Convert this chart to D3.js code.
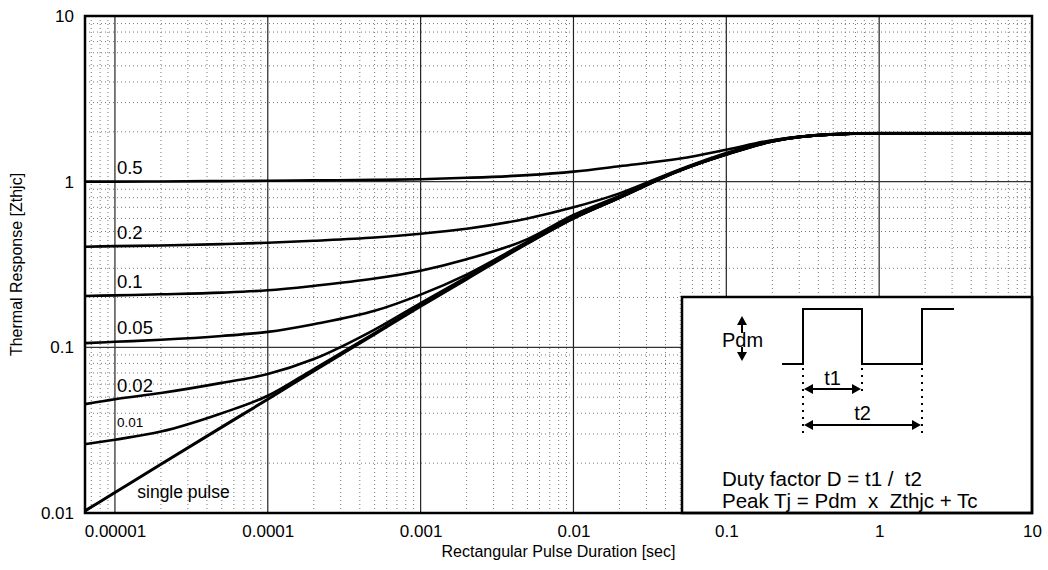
<!DOCTYPE html>
<html><head><meta charset="utf-8">
<script src="https://cdn.jsdelivr.net/npm/d3@7"></script>
<style>
body{margin:0;background:#fff}
text{font-family:"Liberation Sans",Arial,Helvetica,sans-serif;fill:#000}
</style>
</head><body>
<svg id="chart" width="1048" height="570"></svg>
<script>
// ---- data ----
const pulseDurations = [6.37e-6, 1e-5, 2e-5, 5e-5, 1e-4, 2e-4, 5e-4, 1e-3, 2e-3, 5e-3, 1e-2, 2e-2, 5e-2, 0.1, 0.2, 0.5, 1, 2, 5, 10];
const zD05   = [1.0, 1.0, 1.003, 1.008, 1.012, 1.018, 1.025, 1.035, 1.055, 1.095, 1.15, 1.24, 1.38, 1.56, 1.78, 1.93, 1.96, 1.96, 1.96, 1.96];
const zD02   = [0.405, 0.408, 0.412, 0.42, 0.428, 0.44, 0.46, 0.485, 0.52, 0.60, 0.70, 0.85, 1.19, 1.49, 1.77, 1.93, 1.96, 1.96, 1.96, 1.96];
const zD01   = [0.204, 0.206, 0.209, 0.214, 0.221, 0.235, 0.26, 0.29, 0.34, 0.45, 0.63, 0.82, 1.18, 1.47, 1.76, 1.93, 1.96, 1.96, 1.96, 1.96];
const zD005  = [0.106, 0.108, 0.111, 0.117, 0.124, 0.138, 0.166, 0.208, 0.275, 0.435, 0.61, 0.805, 1.175, 1.465, 1.755, 1.93, 1.96, 1.96, 1.96, 1.96];
const zD002  = [0.0454, 0.0486, 0.053, 0.061, 0.069, 0.085, 0.128, 0.185, 0.265, 0.428, 0.602, 0.80, 1.17, 1.46, 1.75, 1.93, 1.96, 1.96, 1.96, 1.96];
const zD001  = [0.026, 0.0277, 0.031, 0.040, 0.051, 0.074, 0.122, 0.179, 0.26, 0.425, 0.601, 0.80, 1.17, 1.46, 1.75, 1.93, 1.96, 1.96, 1.96, 1.96];
const zSingle= [0.0103, 0.0133, 0.0197, 0.033, 0.0486, 0.072, 0.120, 0.177, 0.258, 0.424, 0.60, 0.80, 1.17, 1.46, 1.75, 1.93, 1.96, 1.96, 1.96, 1.96];
const seriesLabels = ["0.5", "0.2", "0.1", "0.05", "0.02", "0.01", "single pulse"];
const seriesValues = [zD05, zD02, zD01, zD005, zD002, zD001, zSingle];
const xTickValues = [1e-5, 1e-4, 1e-3, 1e-2, 1e-1, 1, 10];
const xTickLabels = ["0.00001", "0.0001", "0.001", "0.01", "0.1", "1", "10"];
const yTickValues = [0.01, 0.1, 1, 10];
const yTickLabels = ["0.01", "0.1", "1", "10"];
const xTitle = "Rectangular Pulse Duration [sec]";
const yTitle = "Thermal Response [Zthjc]";
const insetLine1 = "Duty factor D = t1 /  t2";
const insetLine2 = "Peak Tj = Pdm  x  Zthjc + Tc";

// ---- layout ----
const L = 85, R = 1032, T = 16, B = 513;
const svg = d3.select("#chart");
const x = d3.scaleLog().domain([pulseDurations[0], 10]).range([L, R]);
const y = d3.scaleLog().domain([0.01, 10]).range([B, T]);

svg.append("rect").attr("width",1048).attr("height",570).attr("fill","#fff");

// grid
const minorX = [], minorY = [];
for (let e = -6; e <= 0; e++) for (let k = 2; k <= 9; k++) { const v = k*Math.pow(10,e); if (v > x.domain()[0] && v < 10) minorX.push(v); }
for (let e = -2; e <= 0; e++) for (let k = 2; k <= 9; k++) minorY.push(k*Math.pow(10,e));
const g = svg.append("g");
g.selectAll(".mx").data(minorX).join("line")
  .attr("x1",d=>x(d)).attr("x2",d=>x(d)).attr("y1",T).attr("y2",B)
  .attr("stroke","#777").attr("stroke-width",1).attr("stroke-dasharray","1,3");
g.selectAll(".my").data(minorY).join("line")
  .attr("x1",L).attr("x2",R).attr("y1",d=>y(d)).attr("y2",d=>y(d))
  .attr("stroke","#777").attr("stroke-width",1).attr("stroke-dasharray","1,3");
g.selectAll(".Mx").data(xTickValues).join("line")
  .attr("x1",d=>x(d)).attr("x2",d=>x(d)).attr("y1",T).attr("y2",B)
  .attr("stroke","#222").attr("stroke-width",1.2);
g.selectAll(".My").data(yTickValues).join("line")
  .attr("x1",L).attr("x2",R).attr("y1",d=>y(d)).attr("y2",d=>y(d))
  .attr("stroke","#333").attr("stroke-width",1.2);

// curves
svg.append("clipPath").attr("id","clip").append("rect").attr("x",L).attr("y",T).attr("width",R-L).attr("height",B-T);
const line = d3.line().x(d=>x(d[0])).y(d=>y(d[1])).curve(d3.curveMonotoneX);
svg.append("g").attr("clip-path","url(#clip)").selectAll("path").data(seriesValues).join("path")
  .attr("d",vals=>line(pulseDurations.map((t,i)=>[t,vals[i]])))
  .attr("fill","none").attr("stroke","#000").attr("stroke-width",(d,i)=>i===6?3:2.6).attr("stroke-linejoin","round");

// curve labels
const lbl = svg.append("g");
seriesLabels.forEach((s,i)=>{
  if (i < 6) {
    lbl.append("text").attr("x", x(1e-5)+2).attr("y", y(seriesValues[i][1]) - (i===5?17:14))
      .attr("dominant-baseline","central").attr("font-size", i===5?13.5:18.5).text(s);
  } else {
    lbl.append("text").attr("x", x(1.4e-5)).attr("y", y(seriesValues[i][1]))
      .attr("dominant-baseline","central").attr("font-size",17.5).text(s);
  }
});

// inset
const IL = 682, IT = 297;
const inset = svg.append("g");
inset.append("rect").attr("x",IL).attr("y",IT).attr("width",R-IL).attr("height",B-IT)
  .attr("fill","#fff").attr("stroke","#000").attr("stroke-width",2.5);
const lo = IT+67, hi = IT+12;
const wx = [IL+100, IL+121, IL+180, IL+240, IL+272];
inset.append("path").attr("d",`M${wx[0]},${lo}H${wx[1]}V${hi}H${wx[2]}V${lo}H${wx[3]}V${hi}H${wx[4]}`)
  .attr("fill","none").attr("stroke","#000").attr("stroke-width",2);
[[wx[1],lo+4,IT+140],[wx[2],lo+4,IT+95],[wx[3],lo+4,IT+140]].forEach(([px,a,b])=>{
  inset.append("line").attr("x1",px).attr("x2",px).attr("y1",a).attr("y2",b)
    .attr("stroke","#000").attr("stroke-width",2).attr("stroke-dasharray","2,5");
});
function head(px,py,dir){ // dir: 'l','r','u','d'
  const s=9,w=5; let p;
  if(dir==='l') p=[[px,py],[px+s,py-w],[px+s,py+w]];
  if(dir==='r') p=[[px,py],[px-s,py-w],[px-s,py+w]];
  if(dir==='u') p=[[px,py],[px-w,py+s],[px+w,py+s]];
  if(dir==='d') p=[[px,py],[px-w,py-s],[px+w,py-s]];
  inset.append("polygon").attr("points",p.map(q=>q.join(",")).join(" ")).attr("fill","#000");
}
const t1y = IT+92, t2y = IT+128;
inset.append("line").attr("x1",wx[1]+4).attr("x2",wx[2]-4).attr("y1",t1y).attr("y2",t1y).attr("stroke","#000").attr("stroke-width",2);
head(wx[1]+1,t1y,'l'); head(wx[2]-1,t1y,'r');
inset.append("line").attr("x1",wx[1]+4).attr("x2",wx[3]-4).attr("y1",t2y).attr("y2",t2y).attr("stroke","#000").attr("stroke-width",2);
head(wx[1]+1,t2y,'l'); head(wx[3]-1,t2y,'r');
inset.append("text").attr("x",(wx[1]+wx[2])/2).attr("y",t1y-11).attr("text-anchor","middle").attr("dominant-baseline","central").attr("font-size",20).text("t1");
inset.append("text").attr("x",(wx[1]+wx[3])/2).attr("y",t2y-12).attr("text-anchor","middle").attr("dominant-baseline","central").attr("font-size",20).text("t2");
// Pdm
const ax = IL+60;
inset.append("line").attr("x1",ax).attr("x2",ax).attr("y1",IT+25).attr("y2",IT+36).attr("stroke","#000").attr("stroke-width",2);
head(ax,IT+19,'u');
inset.append("line").attr("x1",ax).attr("x2",ax).attr("y1",IT+50).attr("y2",IT+57).attr("stroke","#000").attr("stroke-width",2);
head(ax,IT+64,'d');
inset.append("text").attr("x",IL+40).attr("y",IT+43).attr("dominant-baseline","central").attr("font-size",20).text("Pdm");
inset.append("text").attr("x",IL+40).attr("y",IT+181).attr("dominant-baseline","central").attr("font-size",20.5).style("white-space","pre").text(insetLine1);
inset.append("text").attr("x",IL+40).attr("y",IT+203).attr("dominant-baseline","central").attr("font-size",20.5).style("white-space","pre").text(insetLine2);

// frame
svg.append("rect").attr("x",L).attr("y",T).attr("width",R-L).attr("height",B-T)
  .attr("fill","none").attr("stroke","#000").attr("stroke-width",2.5);

// axes
const xAxis = d3.axisBottom(x).tickValues(xTickValues).tickFormat((d,i)=>xTickLabels[i]).tickSize(0).tickPadding(12);
const gx = svg.append("g").attr("transform",`translate(0,${B})`).call(xAxis);
gx.select(".domain").remove();
gx.selectAll("text").attr("font-size",17).attr("font-family",null).attr("fill","#000");
const yAxis = d3.axisLeft(y).tickValues(yTickValues).tickFormat((d,i)=>yTickLabels[i]).tickSize(0).tickPadding(11);
const gy = svg.append("g").attr("transform",`translate(${L},0)`).call(yAxis);
gy.select(".domain").remove();
gy.selectAll("text").attr("font-size",17).attr("font-family",null).attr("fill","#000");

svg.append("text").attr("x",(L+R)/2).attr("y",557).attr("text-anchor","middle").attr("font-size",16).text(xTitle);
svg.append("text").attr("transform",`translate(22,${(T+B)/2}) rotate(-90)`).attr("text-anchor","middle").attr("font-size",16).text(yTitle);
</script>
</body></html>
